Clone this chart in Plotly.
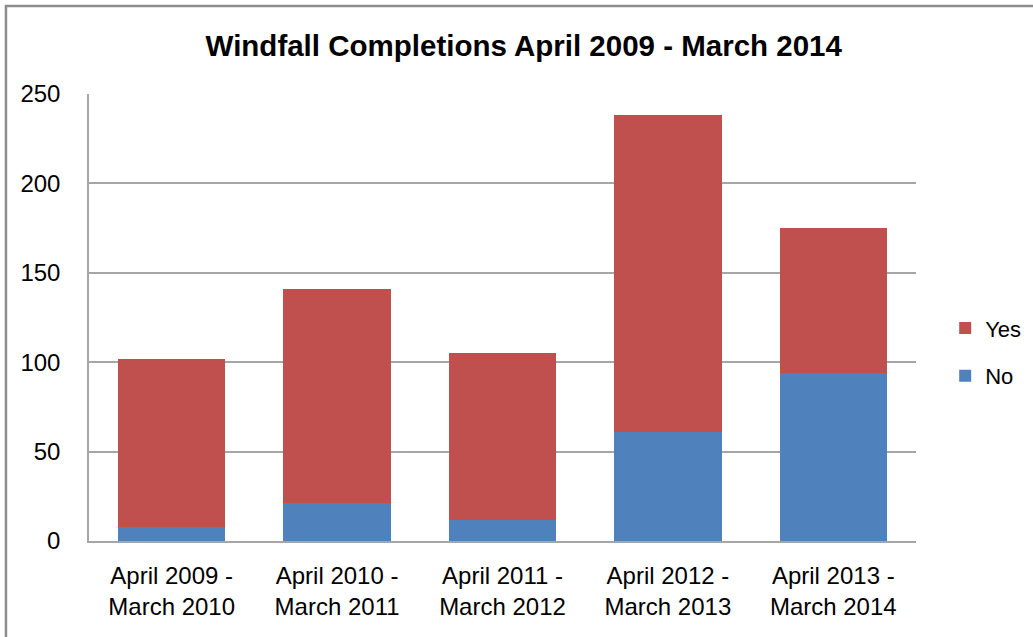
import plotly.graph_objects as go

categories = ["April 2009 -<br>March 2010", "April 2010 -<br>March 2011", "April 2011 -<br>March 2012",
              "April 2012 -<br>March 2013", "April 2013 -<br>March 2014"]
no_values = [8, 21, 12, 61, 94]
yes_values = [94, 120, 93, 177, 81]
tick_vals = [0, 50, 100, 150, 200, 250]

FONT = "Liberation Sans, Arial, sans-serif"

fig = go.Figure()
fig.add_trace(go.Bar(x=categories, y=no_values, name="No", legendgroup="no", legendrank=2,
                     marker=dict(color="#4F81BD", line=dict(width=0))))
fig.add_trace(go.Bar(x=categories, y=yes_values, name="Yes", legendgroup="yes", legendrank=1,
                     marker=dict(color="#C0504D", line=dict(width=0))))

fig.update_layout(
    width=1033, height=637,
    barmode="stack", bargap=0.35,
    paper_bgcolor="white", plot_bgcolor="white",
    margin=dict(l=89, r=117, t=94, b=96),
    title=dict(text="<b>Windfall Completions April 2009 - March 2014</b>", x=0.507, xanchor="center",
               y=0.929, yanchor="middle", font=dict(family=FONT, size=29.5, color="black")),
    font=dict(family=FONT, size=24, color="black"),
    legend=dict(xref="container", yref="container", x=0.915, y=0.447, xanchor="left", yanchor="middle",
                traceorder="grouped", font=dict(size=22), itemwidth=30, tracegroupgap=16,
                bgcolor="rgba(0,0,0,0)"),
    showlegend=True,
)
fig.update_yaxes(range=[0, 250], tickvals=tick_vals, showgrid=True, gridcolor="#A6A6A6", gridwidth=1.5,
                 showline=True, linecolor="#A6A6A6", linewidth=1.5, ticks="",
                 ticklabelstandoff=22, tickfont=dict(size=24), zeroline=False)
fig.update_xaxes(showline=True, linecolor="#A6A6A6", linewidth=1.5, ticks="", ticklabelstandoff=12,
                 tickfont=dict(size=24))

# outer chart frame
fig.add_shape(type="rect", xref="paper", yref="paper", x0=-0.1004, x1=1.5, y0=-0.5, y1=1.197,
              line=dict(color="#8C8C8C", width=2.5), fillcolor="rgba(0,0,0,0)", layer="below")

fig.write_html("out.html", config={"displayModeBar": False},
               post_script="document.body.style.margin='0';")
